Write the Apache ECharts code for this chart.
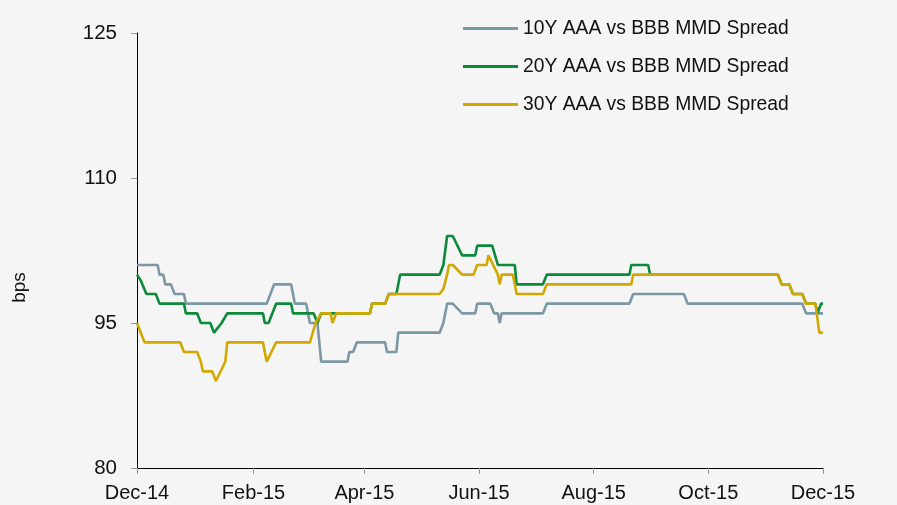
<!DOCTYPE html>
<html>
<head>
<meta charset="utf-8">
<script src="https://cdn.jsdelivr.net/npm/echarts@6/dist/echarts.min.js"></script>
<style>
  html, body { margin: 0; padding: 0; background: #f5f5f5; }
  #chart { width: 897px; height: 505px; }
</style>
</head>
<body>
<div id="chart"></div>
<script>
// spreads in bps (change points)
const tenYear = [
  ['2014-12-01', 101], ['2014-12-12', 101], ['2014-12-13', 100], ['2014-12-15', 100], ['2014-12-16', 99],
  ['2014-12-19', 99], ['2014-12-21', 98], ['2014-12-26', 98], ['2014-12-27', 97], ['2015-02-08', 97],
  ['2015-02-10', 98], ['2015-02-12', 99], ['2015-02-21', 99], ['2015-02-23', 97], ['2015-03-01', 97],
  ['2015-03-03', 95], ['2015-03-07', 95], ['2015-03-09', 91], ['2015-03-23', 91], ['2015-03-24', 92],
  ['2015-03-26', 92], ['2015-03-28', 93], ['2015-04-12', 93], ['2015-04-13', 92], ['2015-04-18', 92],
  ['2015-04-19', 94], ['2015-05-11', 94], ['2015-05-13', 95], ['2015-05-15', 97], ['2015-05-18', 97],
  ['2015-05-23', 96], ['2015-05-30', 96], ['2015-05-31', 97], ['2015-06-07', 97], ['2015-06-09', 96],
  ['2015-06-11', 96], ['2015-06-12', 95], ['2015-06-13', 96], ['2015-07-05', 96], ['2015-07-07', 97],
  ['2015-08-20', 97], ['2015-08-22', 98], ['2015-09-18', 98], ['2015-09-20', 97], ['2015-11-20', 97],
  ['2015-11-22', 96], ['2015-12-01', 96]
];
const twentyYear = [
  ['2014-12-01', 100], ['2014-12-03', 99.4], ['2014-12-06', 98], ['2014-12-11', 98], ['2014-12-13', 97],
  ['2014-12-26', 97], ['2014-12-27', 96], ['2015-01-02', 96], ['2015-01-04', 95], ['2015-01-09', 95],
  ['2015-01-11', 94], ['2015-01-12', 94], ['2015-01-15', 95], ['2015-01-18', 96], ['2015-02-06', 96],
  ['2015-02-07', 95], ['2015-02-09', 95], ['2015-02-13', 97], ['2015-02-21', 97], ['2015-02-22', 96],
  ['2015-03-05', 96], ['2015-03-07', 95], ['2015-03-09', 96], ['2015-04-04', 96], ['2015-04-05', 97],
  ['2015-04-12', 97], ['2015-04-14', 98], ['2015-04-18', 98], ['2015-04-20', 100], ['2015-05-11', 100],
  ['2015-05-13', 101], ['2015-05-15', 104], ['2015-05-18', 104], ['2015-05-23', 102], ['2015-05-30', 102],
  ['2015-05-31', 103], ['2015-06-08', 103], ['2015-06-11', 101], ['2015-06-20', 101], ['2015-06-21', 99],
  ['2015-07-05', 99], ['2015-07-07', 100], ['2015-08-20', 100], ['2015-08-21', 101], ['2015-08-30', 101],
  ['2015-08-31', 100], ['2015-11-07', 100], ['2015-11-09', 99], ['2015-11-13', 99], ['2015-11-15', 98],
  ['2015-11-20', 98], ['2015-11-22', 97], ['2015-11-27', 97], ['2015-11-28', 96], ['2015-11-30', 97],
  ['2015-12-01', 97]
];
const thirtyYear = [
  ['2014-12-01', 95], ['2014-12-05', 93], ['2014-12-24', 93], ['2014-12-26', 92], ['2015-01-02', 92],
  ['2015-01-04', 91], ['2015-01-05', 90], ['2015-01-10', 90], ['2015-01-12', 89], ['2015-01-13', 89],
  ['2015-01-17', 91], ['2015-01-18', 93], ['2015-02-06', 93], ['2015-02-08', 91], ['2015-02-09', 91],
  ['2015-02-13', 93], ['2015-03-03', 93], ['2015-03-06', 95], ['2015-03-09', 96], ['2015-03-14', 96],
  ['2015-03-15', 95], ['2015-03-17', 96], ['2015-04-04', 96], ['2015-04-05', 97], ['2015-04-12', 97],
  ['2015-04-14', 98], ['2015-05-11', 98], ['2015-05-13', 98.5], ['2015-05-15', 100], ['2015-05-16', 101],
  ['2015-05-18', 101], ['2015-05-23', 100], ['2015-05-29', 100], ['2015-05-31', 101], ['2015-06-05', 101],
  ['2015-06-06', 102], ['2015-06-11', 100], ['2015-06-12', 99], ['2015-06-13', 100], ['2015-06-19', 100],
  ['2015-06-21', 98], ['2015-07-05', 98], ['2015-07-07', 99], ['2015-08-21', 99], ['2015-08-22', 100],
  ['2015-11-07', 100], ['2015-11-09', 99], ['2015-11-13', 99], ['2015-11-15', 98], ['2015-11-20', 98],
  ['2015-11-22', 97], ['2015-11-27', 97], ['2015-11-29', 94], ['2015-12-01', 94]
];

const tickDates = ['2014-12-01', '2015-02-01', '2015-04-01', '2015-06-01', '2015-08-01', '2015-10-01', '2015-12-01'];
const tickLabels = ['Dec-14', 'Feb-15', 'Apr-15', 'Jun-15', 'Aug-15', 'Oct-15', 'Dec-15'];
const seriesNames = ['10Y AAA vs BBB MMD Spread', '20Y AAA vs BBB MMD Spread', '30Y AAA vs BBB MMD Spread'];

const ts = (s) => echarts.time.parse(s).getTime();
const tickValues = tickDates.map(ts);
const toPoints = (arr) => arr.map(([d, v]) => [ts(d), v]);

const font = "'Liberation Sans', Arial, sans-serif";
const colors = ['#7c98a4', '#0b8a3a', '#d2a800'];

const chart = echarts.init(document.getElementById('chart'));

function line(name, data, color) {
  return {
    name,
    type: 'line',
    data: toPoints(data),
    symbol: 'none',
    lineStyle: { color, width: 2.6 },
    itemStyle: { color },
    animation: false
  };
}

chart.setOption({
  backgroundColor: '#f5f5f5',
  textStyle: { fontFamily: font },
  grid: { left: 137, right: 74, top: 33, bottom: 37 },
  legend: {
    orient: 'vertical',
    left: 463,
    top: 19,
    icon: 'rect',
    itemWidth: 55,
    itemHeight: 3,
    itemGap: 19,
    padding: 0,
    textStyle: { fontSize: 19.3, color: '#111', fontFamily: font, lineHeight: 19 }
  },
  xAxis: {
    type: 'value',
    min: tickValues[0],
    max: tickValues[tickValues.length - 1],
    splitLine: { show: false },
    axisLine: { lineStyle: { color: '#000', width: 1 } },
    axisTick: { customValues: tickValues, length: 6, lineStyle: { color: '#999' } },
    axisLabel: {
      customValues: tickValues,
      margin: 15,
      fontSize: 20,
      color: '#111',
      fontFamily: font,
      formatter: (v) => tickLabels[tickValues.indexOf(v)] || ''
    }
  },
  yAxis: {
    type: 'value',
    min: 80,
    max: 125,
    interval: 15,
    name: 'bps',
    nameLocation: 'middle',
    nameGap: 108,
    nameTextStyle: { fontSize: 19, color: '#111', fontFamily: font, padding: [0, 74, 0, 0] },
    splitLine: { show: false },
    axisLine: { show: true, lineStyle: { color: '#000', width: 1 } },
    axisTick: { show: true, length: 6, lineStyle: { color: '#999' } },
    axisLabel: { margin: 20, fontSize: 20.5, color: '#111', fontFamily: font }
  },
  series: [
    line(seriesNames[0], tenYear, colors[0]),
    line(seriesNames[1], twentyYear, colors[1]),
    line(seriesNames[2], thirtyYear, colors[2])
  ]
});
</script>
</body>
</html>
